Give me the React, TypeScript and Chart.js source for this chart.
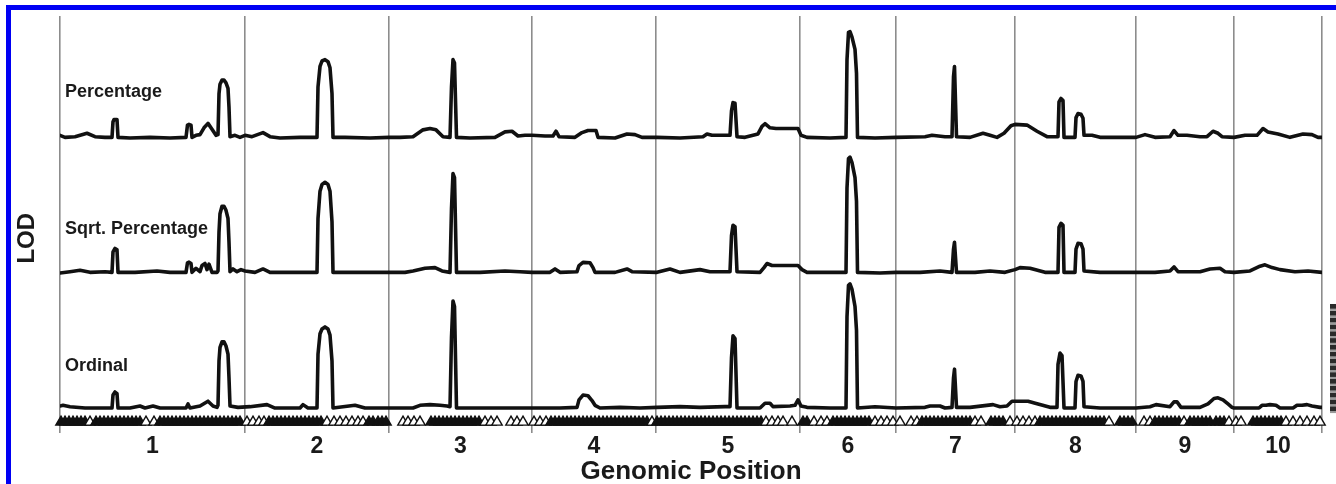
import React, { useEffect, useRef } from 'react';
import { Chart, registerables } from 'chart.js';

Chart.register(...registerables);

// Chromosomes and their genetic lengths (cM)
const chromosomes = ['1', '2', '3', '4', '5', '6', '7', '8', '9', '10'];
const chromosomeLengths = [185, 144, 143, 124, 144, 96, 119, 121, 98, 88];

// Genome-wide LOD scans: [cumulative position (cM), LOD]
const percentageScan: [number, number][] = [
  [0, 0.9], [5, 0.6], [15, 0.7], [27, 1.2], [35, 0.7], [45, 0.6], [52, 0.6], [53, 2.9], [54, 3.2], [57, 3.2], [58, 0.6],
  [70, 0.5], [90, 0.6], [110, 0.5], [126, 0.6], [127.5, 2.4], [129, 2.5], [131, 2.4], [132, 0.6], [136, 0.9], [140, 1.0],
  [144, 2.0], [148, 2.65], [152, 1.8], [156, 0.9], [158, 1.0], [159, 7.0], [160, 8.4], [162, 9.0], [164, 9.0], [166, 8.6],
  [168, 7.8], [169, 5.0], [170, 0.7], [175, 0.9], [180, 0.6], [185, 0.9],
  [192, 0.7], [203, 1.3], [210, 0.7], [220, 0.5], [240, 0.6], [257, 0.6], [258, 8.0], [260, 11.0], [262, 11.8], [265, 12.0],
  [268, 11.7], [270, 10.8], [272, 7.0], [273, 0.6], [285, 0.6], [310, 0.5], [329, 0.6],
  [340, 0.6], [353, 0.7], [363, 1.7], [370, 1.9], [376, 1.7], [383, 0.7], [390, 0.6], [391.5, 8.0], [393, 12.0], [394.5, 11.5],
  [396.5, 0.6], [410, 0.5], [435, 0.6], [445, 1.4], [452, 1.5], [458, 0.8], [465, 0.9], [472, 0.9],
  [485, 0.8], [493, 0.8], [496, 1.5], [499, 0.7], [515, 0.6], [522, 1.3], [528, 1.6], [536, 1.6], [538, 0.6], [555, 0.5],
  [567, 1.1], [575, 1.0], [582, 0.6], [597, 0.6],
  [620, 0.5], [643, 0.7], [647, 1.1], [652, 0.9], [670, 0.9], [671.5, 4.5], [673, 5.7], [675, 5.6], [677, 0.7], [685, 0.6],
  [698, 1.1], [702, 2.2], [705, 2.6], [710, 2.0], [716, 1.9], [738, 1.9], [741, 0.9],
  [747, 0.6], [770, 0.5], [786, 0.6], [787, 12.0], [788.5, 16.0], [790, 16.1], [792, 15.3], [795, 13.5], [796.5, 10.0],
  [797.5, 0.6], [815, 0.5], [836, 0.6],
  [865, 0.7], [872, 0.9], [885, 0.7], [892, 0.7], [893.5, 9.5], [894.5, 11.0], [896.5, 0.7], [910, 0.6], [923, 1.2], [930, 0.9],
  [937, 0.6], [944, 1.2], [951, 2.3], [955, 2.5],
  [967, 2.4], [977, 1.5], [987, 0.7], [998, 0.7], [999, 5.8], [1001, 6.3], [1003, 6.0], [1004, 0.6], [1015, 0.6], [1016, 3.5],
  [1018, 4.1], [1021, 4.0], [1023, 3.4], [1024, 0.9], [1032, 0.9], [1040, 0.6], [1076, 0.6],
  [1085, 1.0], [1095, 0.6], [1110, 0.7], [1114, 1.6], [1118, 0.9], [1127, 0.9], [1140, 0.7], [1147, 0.7], [1153, 1.5],
  [1158, 1.2], [1162, 0.7], [1174, 0.6],
  [1185, 0.9], [1197, 0.9], [1203, 1.9], [1208, 1.4], [1218, 1.1], [1230, 0.6], [1243, 1.1], [1252, 1.0], [1258, 0.6], [1262, 0.6],
];

const sqrtPercentageScan: [number, number][] = [
  [0, 0.5], [10, 0.7], [20, 0.9], [30, 0.6], [45, 0.7], [52, 0.6], [53, 3.6], [55, 4.1], [57, 3.9], [58, 0.6], [75, 0.6],
  [97, 0.8], [110, 0.6], [126, 0.6], [127.5, 2.0], [129, 2.1], [131, 1.9], [132, 0.6], [136, 1.2], [140, 0.7], [142, 1.6],
  [145, 1.9], [147, 1.0], [149, 1.8], [152, 0.6], [157, 0.6], [158, 0.8], [159, 6.5], [160, 9.2], [162, 10.3], [164, 10.3],
  [166, 9.7], [168, 8.5], [169, 5.0], [170, 0.7], [173, 1.1], [177, 0.7], [181, 1.0], [185, 0.8],
  [195, 0.6], [203, 1.1], [210, 0.6], [235, 0.6], [257, 0.6], [258, 8.5], [260, 12.5], [262, 13.5], [265, 13.8], [268, 13.5],
  [270, 12.5], [272, 8.0], [273, 0.6], [300, 0.6], [329, 0.6],
  [345, 0.6], [353, 0.8], [365, 1.2], [375, 1.3], [382, 0.8], [390, 0.6], [391.5, 10.0], [393, 15.1], [394.5, 14.5],
  [396.5, 0.6], [420, 0.6], [445, 0.8], [460, 0.7], [472, 0.6],
  [490, 0.6], [495, 1.1], [500, 0.6], [517, 0.7], [519, 1.6], [523, 2.07], [530, 2.0], [533, 1.3], [535, 0.6], [555, 0.6],
  [567, 1.1], [572, 0.7], [597, 0.6],
  [610, 1.1], [620, 0.6], [640, 1.0], [650, 0.7], [670, 0.7], [671.5, 6.0], [673, 7.5], [675, 7.3], [677, 0.7], [700, 0.6],
  [704, 1.3], [707, 1.9], [712, 1.6], [738, 1.6], [742, 1.0],
  [747, 0.6], [770, 0.6], [786, 0.6], [787, 13.0], [788.5, 17.3], [790, 17.5], [792, 16.7], [795, 14.5], [796.5, 11.0],
  [797.5, 0.6], [820, 0.5], [836, 0.6],
  [860, 0.6], [880, 0.8], [892, 0.6], [893.5, 4.0], [894.5, 5.0], [896.5, 0.6], [915, 0.6], [930, 0.8], [945, 0.6], [955, 1.0],
  [960, 1.3], [970, 1.2], [985, 0.6], [998, 0.6], [999, 7.2], [1001, 7.8], [1003, 7.5], [1004, 0.6], [1015, 0.6], [1016, 4.0],
  [1018, 4.85], [1021, 4.8], [1023, 4.0], [1024, 0.8], [1040, 0.6], [1076, 0.6],
  [1095, 0.6], [1110, 0.8], [1114, 1.4], [1118, 0.7], [1140, 0.7], [1150, 1.1], [1160, 1.2], [1165, 0.7], [1174, 0.6],
  [1190, 0.8], [1200, 1.5], [1205, 1.7], [1212, 1.3], [1220, 1.0], [1235, 0.7], [1248, 0.8], [1262, 0.6],
];

const ordinalScan: [number, number][] = [
  [0, 0.9], [3, 1.0], [10, 0.8], [25, 0.6], [45, 0.6], [52, 0.6], [53, 2.5], [55, 2.95], [57, 2.7], [58, 0.6], [70, 0.6],
  [80, 0.9], [85, 0.6], [93, 0.9], [100, 0.6], [126, 0.6], [128, 1.2], [130, 0.6], [140, 0.9], [148, 1.6], [153, 0.9],
  [157, 0.7], [158, 1.0], [159, 7.5], [160, 9.5], [162, 10.3], [164, 10.3], [166, 9.7], [168, 8.5], [169, 5.0], [170, 0.9],
  [178, 0.7],
  [190, 0.8], [207, 1.1], [215, 0.6], [240, 0.6], [243, 1.1], [248, 0.6], [257, 0.6], [258, 8.5], [260, 11.5], [262, 12.2],
  [265, 12.5], [268, 12.2], [270, 11.3], [272, 7.5], [273, 0.6], [295, 1.0], [305, 0.6], [329, 0.6],
  [345, 0.6], [353, 0.6], [360, 1.0], [370, 1.1], [380, 1.0], [387, 0.9], [390, 0.8], [391.5, 11.0], [393, 16.3],
  [394.5, 15.5], [396.5, 0.6], [420, 0.6], [445, 0.6], [472, 0.6],
  [500, 0.6], [517, 0.7], [519, 1.8], [523, 2.5], [528, 2.4], [532, 1.7], [535, 1.0], [540, 0.6], [560, 0.7], [580, 0.6],
  [597, 0.7],
  [620, 0.8], [640, 0.7], [665, 0.8], [670, 0.8], [671.5, 8.0], [673, 11.2], [675, 10.8], [677, 0.6], [700, 0.6], [705, 1.3],
  [710, 1.3], [713, 0.8], [730, 0.9], [735, 1.0], [738, 1.8], [741, 0.9],
  [747, 0.7], [770, 0.6], [786, 0.6], [787, 14.0], [788.5, 18.6], [790, 18.8], [792, 18.0], [795, 15.5], [796.5, 12.0],
  [797.5, 0.6], [815, 0.8], [836, 0.6],
  [865, 0.7], [870, 0.9], [880, 0.9], [885, 0.6], [892, 0.7], [893.5, 5.0], [894.5, 6.3], [896.5, 0.7], [910, 0.7],
  [933, 1.1], [940, 0.8], [947, 0.9], [952, 1.6], [955, 1.6],
  [968, 1.6], [978, 1.2], [990, 0.7], [997, 0.7], [998, 7.0], [1000, 8.67], [1002, 8.3], [1004, 0.6], [1015, 0.6],
  [1016, 4.5], [1018, 5.4], [1021, 5.3], [1023, 4.5], [1024, 0.8], [1040, 0.6], [1076, 0.6],
  [1090, 0.8], [1096, 1.1], [1110, 0.8], [1114, 1.5], [1117, 1.5], [1121, 0.7], [1140, 0.7], [1148, 1.2], [1154, 2.0],
  [1158, 2.1], [1163, 1.8], [1168, 1.2], [1172, 0.7], [1174, 0.6],
  [1199, 0.6], [1202, 1.0], [1206, 1.0], [1210, 1.1], [1216, 1.0], [1220, 0.6], [1233, 0.6], [1237, 1.0], [1242, 1.0],
  [1247, 1.1], [1252, 0.9], [1260, 0.7], [1262, 0.7],
];

const traceNames = ['Percentage', 'Sqrt. Percentage', 'Ordinal'];
// Vertical stacking offset of each scan (LOD units)
const traceOffsets = [41.6, 21.8, 1.9];

// Marker positions along each chromosome (cM from the chromosome start)
const markerPositions: number[][] = [
  [1, 5, 9, 13, 17, 21, 25, 30, 36, 40, 44, 48, 52, 56, 60, 64, 68, 72, 76, 80, 86, 94, 100, 104, 108, 112, 116, 120, 124,
    128, 132, 136, 140, 144, 148, 152, 156, 160, 164, 168, 172, 176, 180],
  [2, 8, 14, 19, 24, 28, 32, 36, 40, 44, 48, 52, 56, 60, 64, 68, 72, 76, 82, 89, 95, 101, 107, 113, 118, 124, 128, 133,
    137, 141],
  [14, 19, 25, 31, 42, 46, 50, 54, 58, 62, 66, 70, 74, 78, 82, 86, 90, 96, 102, 108, 122, 128, 134],
  [2, 8, 14, 19, 23, 27, 31, 35, 39, 43, 47, 51, 55, 59, 63, 67, 71, 75, 79, 83, 87, 91, 95, 99, 103, 107, 111, 115, 120],
  [1, 5, 9, 13, 17, 21, 25, 29, 33, 37, 41, 45, 49, 53, 57, 61, 65, 69, 73, 77, 81, 85, 89, 93, 97, 101, 105, 110, 116,
    122, 127, 136],
  [3, 7, 14, 21, 27, 33, 37, 41, 45, 49, 53, 57, 61, 65, 69, 75, 81, 87, 93],
  [4, 15, 21, 26, 30, 34, 38, 42, 46, 50, 54, 58, 62, 66, 70, 74, 79, 85, 95, 99, 103, 107, 114],
  [2, 8, 14, 20, 25, 29, 33, 37, 41, 45, 49, 53, 57, 61, 65, 69, 73, 77, 81, 85, 89, 94, 105, 109, 113, 117],
  [8, 14, 19, 23, 27, 31, 35, 39, 43, 48, 54, 58, 62, 66, 70, 74, 80, 84, 88, 93],
  [2, 7, 19, 23, 27, 31, 35, 39, 43, 47, 52, 59, 66, 73, 80, 86],
];

const markerRowLod = 0.44;
const scaleBarRange = [1.76, 17.76];
const FONT = '"Liberation Sans", Arial, Helvetica, sans-serif';

export default function App() {
  const canvasRef = useRef<HTMLCanvasElement | null>(null);

  useEffect(() => {
    const canvas = canvasRef.current;
    if (!canvas) return;

    const starts: number[] = [];
    let acc = 0;
    chromosomeLengths.forEach((len) => {
      starts.push(acc);
      acc += len;
    });
    const genomeLength = acc;
    const boundaries = [...starts, genomeLength];
    const centerLabels = new Map<number, string>();
    starts.forEach((s, i) => centerLabels.set(s + chromosomeLengths[i] / 2, chromosomes[i]));
    const boundarySet = new Set(boundaries);
    const tickValues = [...boundaries, ...centerLabels.keys()].sort((a, b) => a - b);

    const markers = markerPositions.flatMap((list, i) =>
      list.map((p) => ({ x: starts[i] + p, y: markerRowLod }))
    );
    // markers packed closely together render as solid (overlapping) triangles
    const markerFill = markers.map((m, i) => {
      const prev = markers[i - 1];
      const next = markers[i + 1];
      const close =
        (prev && m.x - prev.x <= 4.5) || (next && next.x - m.x <= 4.5);
      return close ? '#111111' : '#ffffff';
    });

    const scans = [percentageScan, sqrtPercentageScan, ordinalScan];

    const decorations = {
      id: 'decorations',
      beforeDraw(chart: any) {
        const { ctx } = chart;
        ctx.save();
        ctx.fillStyle = '#ffffff';
        ctx.fillRect(0, 0, chart.width, chart.height);
        ctx.restore();
      },
      afterDraw(chart: any) {
        const { ctx, chartArea } = chart;
        const x = chart.scales.x;
        const y = chart.scales.y;
        ctx.save();

        // frame
        ctx.fillStyle = '#0000f4';
        ctx.fillRect(6, 5, chart.width - 6, 5);
        ctx.fillRect(6, 5, 5, chart.height - 5);

        // scan names
        ctx.fillStyle = '#1a1a1a';
        ctx.font = `bold 18px ${FONT}`;
        ctx.textBaseline = 'middle';
        ctx.textAlign = 'left';
        const lifts = [7.25, 6.95, 6.75];
        traceNames.forEach((name, i) => {
          ctx.fillText(name, x.getPixelForValue(0) + 5, y.getPixelForValue(traceOffsets[i] + lifts[i]));
        });

        // y-axis title
        ctx.save();
        ctx.translate(27, y.getPixelForValue(27.4));
        ctx.rotate(-Math.PI / 2);
        ctx.textAlign = 'center';
        ctx.font = `bold 24px ${FONT}`;
        ctx.fillText('LOD', 0, 0);
        ctx.restore();

        // LOD scale bar
        const barX = chartArea.right + 8;
        const barW = chart.width - barX;
        for (let v = scaleBarRange[0]; v < scaleBarRange[1] - 0.01; v += 1) {
          const yb = y.getPixelForValue(v);
          const ym = y.getPixelForValue(v + 0.3);
          const yt = y.getPixelForValue(v + 1);
          ctx.fillStyle = '#9a9a9a';
          ctx.fillRect(barX, ym, barW, yb - ym);
          ctx.fillStyle = '#2a2a2a';
          ctx.fillRect(barX, yt, barW, ym - yt);
        }
        ctx.restore();
      },
    };

    const chart = new Chart(canvas, {
      type: 'line',
      data: {
        datasets: [
          ...scans.map((scan, i) => ({
            label: traceNames[i],
            data: scan.map(([p, lod]) => ({ x: p, y: lod + traceOffsets[i] })),
            borderColor: '#111111',
            borderWidth: 3.6,
            pointRadius: 0,
            tension: 0,
            fill: false,
            borderJoinStyle: 'round' as const,
            borderCapStyle: 'round' as const,
          })),
          {
            label: 'Markers',
            data: markers,
            showLine: false,
            pointStyle: 'triangle',
            pointRadius: 6,
            pointBackgroundColor: markerFill,
            pointBorderColor: '#111111',
            pointBorderWidth: 1.4,
            clip: false as any,
          },
        ],
      },
      options: {
        responsive: false,
        animation: false,
        devicePixelRatio: 1,
        layout: { padding: { top: 16, left: 60, right: 14, bottom: 0 } },
        plugins: { legend: { display: false }, tooltip: { enabled: false } },
        scales: {
          x: {
            type: 'linear',
            min: 0,
            max: genomeLength,
            afterBuildTicks: (axis: any) => {
              axis.ticks = tickValues.map((value) => ({ value }));
            },
            ticks: {
              autoSkip: false,
              maxRotation: 0,
              padding: 2,
              color: '#1a1a1a',
              font: { family: FONT, size: 23, weight: 'bold', lineHeight: 1 },
              callback: (value: any) => centerLabels.get(Number(value)) ?? '',
            },
            grid: {
              color: (ctx: any) =>
                ctx.tick && boundarySet.has(ctx.tick.value) ? '#8c8c8c' : 'rgba(0,0,0,0)',
              lineWidth: 1.6,
              drawTicks: true,
              tickLength: 8,
            },
            border: { display: false },
            title: {
              display: true,
              text: 'Genomic Position',
              color: '#1a1a1a',
              font: { family: FONT, size: 26, weight: 'bold', lineHeight: 0.92 },
              padding: { top: 0, bottom: 0 },
            },
          },
          y: {
            display: false,
            min: 0,
            max: 60,
          },
        },
      },
      plugins: [decorations],
    } as any);

    return () => chart.destroy();
  }, []);

  return (
    <div style={{ position: 'fixed', left: 0, top: 0, width: 1336, height: 484, background: '#fff' }}>
      <canvas ref={canvasRef} width={1336} height={484} />
    </div>
  );
}
